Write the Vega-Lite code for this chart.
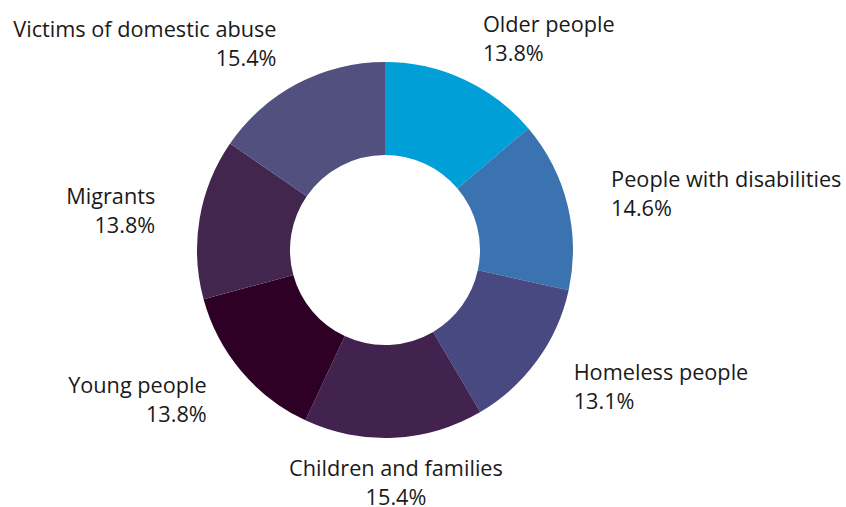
{
  "$schema": "https://vega.github.io/schema/vega-lite/v6.json",
  "width": 770,
  "height": 500,
  "padding": 0,
  "background": "white",
  "config": {"view": {"stroke": null}, "font": "Open Sans"},
  "data": {
    "values": [
      {"idx": 1, "group": "Older people", "value": 13.8, "label": "Older people\n13.8%", "side": "right"},
      {"idx": 2, "group": "People with disabilities", "value": 14.6, "label": "People with disabilities\n14.6%", "side": "right"},
      {"idx": 3, "group": "Homeless people", "value": 13.1, "label": "Homeless people\n13.1%", "side": "right"},
      {"idx": 4, "group": "Children and families", "value": 15.4, "label": "Children and families\n15.4%", "side": "bottom"},
      {"idx": 5, "group": "Young people", "value": 13.8, "label": "Young people\n13.8%", "side": "left"},
      {"idx": 6, "group": "Migrants", "value": 13.8, "label": "Migrants\n13.8%", "side": "left"},
      {"idx": 7, "group": "Victims of domestic abuse", "value": 15.4, "label": "Victims of domestic abuse\n15.4%", "side": "left"}
    ]
  },
  "encoding": {
    "theta": {"field": "value", "type": "quantitative", "stack": true},
    "order": {"field": "idx", "type": "quantitative"}
  },
  "layer": [
    {
      "mark": {"type": "arc", "outerRadius": 188, "innerRadius": 95},
      "encoding": {
        "color": {
          "field": "group",
          "type": "nominal",
          "legend": null,
          "scale": {
            "domain": ["Older people", "People with disabilities", "Homeless people", "Children and families", "Young people", "Migrants", "Victims of domestic abuse"],
            "range": ["#009FD8", "#3B72B0", "#474980", "#42224F", "#2E0026", "#43264E", "#52507E"]
          }
        }
      }
    },
    {
      "mark": {
        "type": "text",
        "radius": 233,
        "align": {"expr": "datum.side == 'right' ? 'left' : (datum.side == 'left' ? 'right' : 'center')"},
        "baseline": "middle",
        "dy": -14,
        "fontSize": 21.7,
        "lineHeight": 29,
        "lineBreak": "\n",
        "fill": "#1a1a1a"
      },
      "encoding": {"text": {"field": "label"}, "detail": {"field": "group"}}
    }
  ]
}
